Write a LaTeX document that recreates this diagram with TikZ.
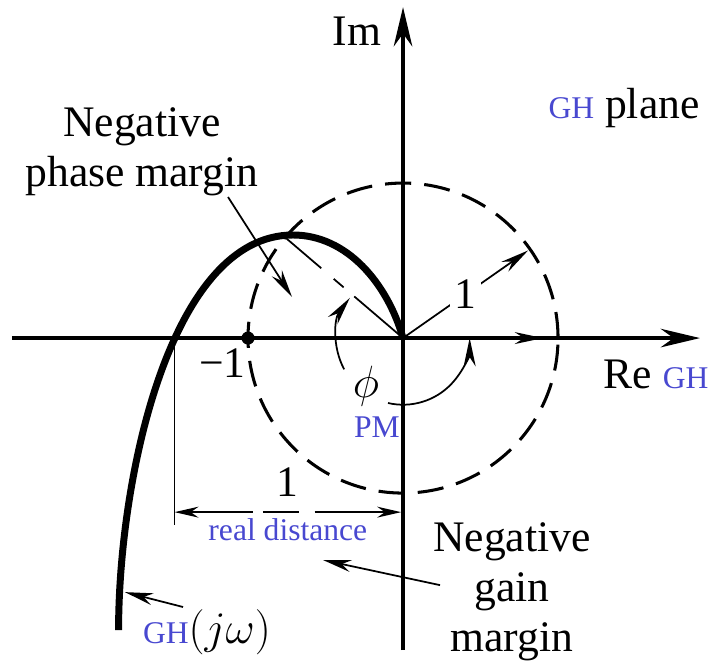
\documentclass[tikz,border=0pt]{standalone}
\usepackage{fontspec}
\setmainfont{Liberation Serif}
\usepackage{tikz}
\usetikzlibrary{arrows.meta,positioning,calc}
\usepackage{xcolor}
\usepackage{amsmath,amssymb}
\definecolor{ghblue}{HTML}{4848D0}
\newcommand{\ghtxt}[1]{{\color{ghblue}\fontsize{14.5}{17}\selectfont #1}}

\begin{document}
\begin{tikzpicture}[x=2.5cm, y=2.5cm,
  axisline/.style={line width=1.8pt, -{Stealth[length=18pt, width=8.5pt]}},
  nyq/.style={line width=3.2pt},
  unitcirc/.style={line width=1.4pt, dash pattern=on 12pt off 6pt},
  fine/.style={line width=0.8pt},
  arr/.style={fine, -{Stealth[length=13pt, width=5.5pt]}},
  dimarr/.style={fine, {Stealth[length=11pt, width=5pt]}-{Stealth[length=11pt, width=5pt]}},
  lbl/.style={font=\fontsize{20}{23}\selectfont, align=center, inner sep=1pt},
  gh/.style={text=ghblue, font=\fontsize{14.5}{17}\selectfont, inner sep=1pt},
  dot/.style={circle, fill, inner sep=0pt, minimum size=6pt}
]
  \useasboundingbox (-2.6,-2.103) rectangle (1.974,2.181);

  \coordinate (O) at (0,0);
  \coordinate (reL) at (-2.523,0);
  \coordinate (reR) at (1.916,0);
  \coordinate (imB) at (0,-2.013);
  \coordinate (imT) at (0,2.135);

  \draw[unitcirc] (O) circle[radius=1];

  \draw[axisline] (reL) -- (reR);
  \draw[axisline] (imB) -- (imT);

  \draw[nyq] (-1.835,-1.884) .. controls (-1.835,-0.9) and (-1.5,0.665) .. (-0.71,0.665)
    .. controls (-0.36,0.665) and (-0.1,0.35) .. (O);

  \node[dot] (m1) at (-1,0) {};

  \coordinate (pmpt) at (139.5:1);
  \draw[fine, dash pattern=on 21.8pt off 7.5pt on 6pt off 6.4pt on 40pt] (pmpt) -- (O);

  \coordinate (rtip) at (35:0.985);
  \draw[arr] (O) -- node[lbl, fill=white, inner sep=2pt] (one) {1} (rtip);
  \coordinate (retip) at (0.903,0);
  \draw[arr] (O) -- (retip);

  \draw[arr] ([shift={(208:0.43)}]O) arc[start angle=208, end angle=143, radius=0.43];
  \draw[arr] ([shift={(257:0.43)}]O) arc[start angle=257, end angle=360, radius=0.43];

  \coordinate (cross) at (-1.474,0);
  \coordinate (crossB) at (-1.474,-1.206);
  \draw[fine] (cross) -- (crossB);
  \coordinate (dL) at (-1.474,-1.123);
  \coordinate (dR) at (-0.012,-1.123);
  \draw[dimarr, dash pattern=on 29pt off 4.6pt on 16.5pt off 7.3pt on 60pt] (dL) --
    node[lbl, above=5.9pt] (dim1) {1} node[gh, below=1.4pt] (rdist) {real distance} (dR);

  \node[lbl, anchor=base] (imlbl) at (-0.297,1.89) {Im};
  \node[lbl, anchor=base] (relbl) at (1.632,-0.323) {Re \ghtxt{GH}};
  \node[lbl, anchor=base] (plane) at (1.426,1.419) {\ghtxt{GH} plane};
  \node[lbl] (npm) at (-1.684,1.2) {Negative\\phase margin};
  \node[lbl] (ngm) at (0.703,-1.637) {Negative\\gain\\margin};
  \node[lbl, anchor=base] (minus1) at (-1.165,-0.252) {−1};
  \node[lbl] (phi) at (-0.239,-0.31) {$\phi$};
  \node[gh, anchor=base] (pm) at (-0.168,-0.639) {PM};
  \node[lbl, anchor=base] (ghjw) at (-1.265,-1.968) {\ghtxt{GH}$(j\omega)$};

  \coordinate (pmS) at (-1.129,0.910);
  \coordinate (pmE) at (-0.716,0.265);
  \draw[arr] (pmS) -- (pmE);
  \coordinate (gmS) at (0.239,-1.594);
  \coordinate (gmE) at (-0.516,-1.432);
  \draw[arr] (gmS) -- (gmE);
  \coordinate (ghS) at (-1.419,-1.735);
  \coordinate (ghE) at (-1.794,-1.639);
  \draw[arr] (ghS) -- (ghE);
\end{tikzpicture}
\end{document}
